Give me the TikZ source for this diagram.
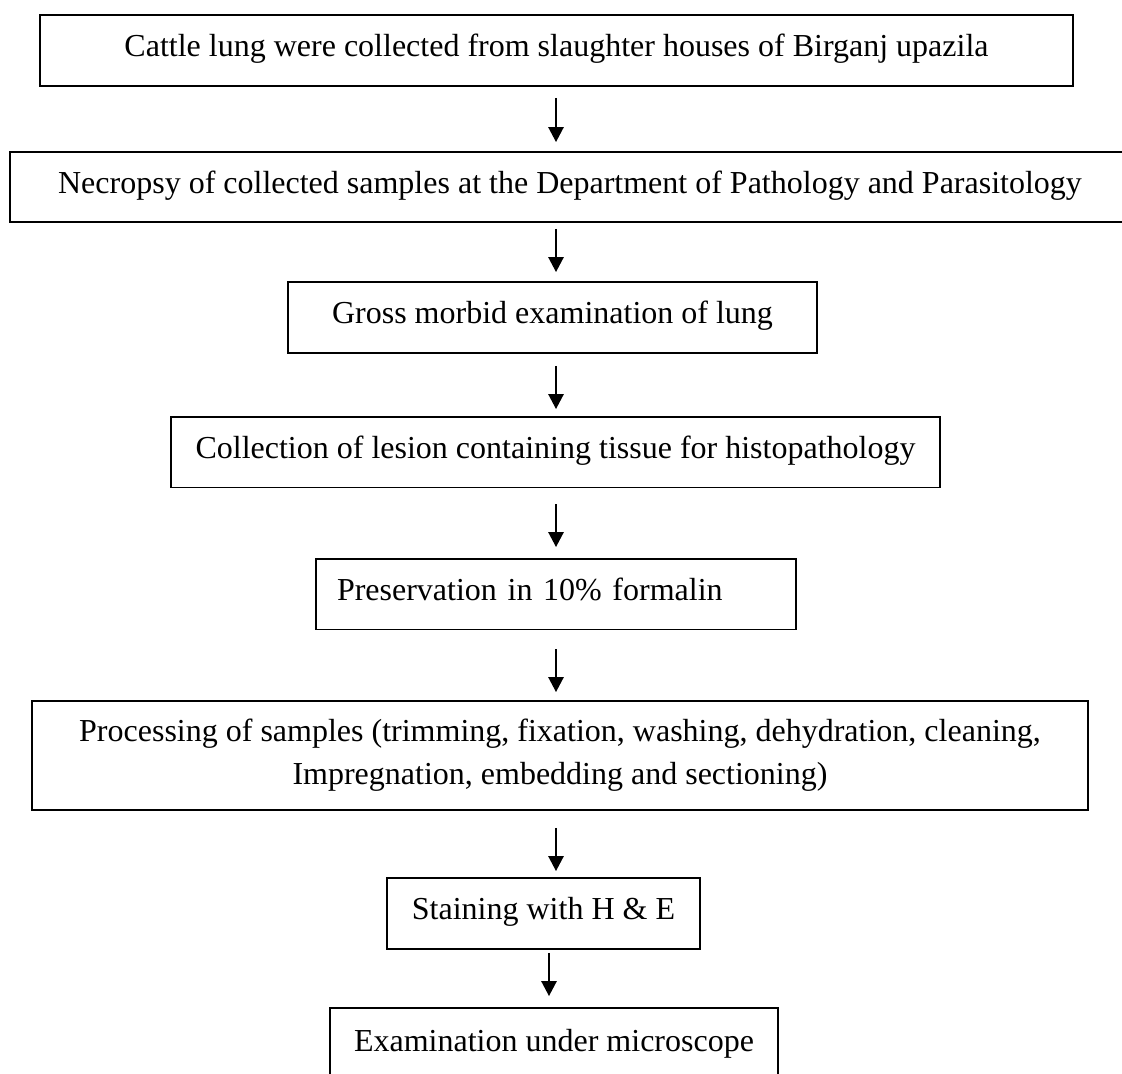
\documentclass[tikz,border=0pt]{standalone}
\usepackage{fontspec}
\setmainfont{Liberation Serif}
\usepackage{tikz}
\usetikzlibrary{arrows.meta, calc}
\tikzset{
  % Process step box
  stepbox/.style={
    rectangle, draw=black, line width=0.9pt,
    align=center, inner sep=0pt,
    font=\fontsize{16pt}{21.5pt}\selectfont,
    text height=11pt, text depth=5pt
  },
  % Arrows
  arr/.style={-{Triangle[length=7.5pt,width=7.5pt]}, line width=1.3pt, black},
}
\begin{document}
\begin{tikzpicture}[x=0.5pt, y=-0.5pt]
  \useasboundingbox (0,0) rectangle (1122,1073);

  % Steps
  \node[stepbox, minimum width=516.5pt, minimum height=35.5pt] (collect) at (556.5,50.5)
    {Cattle lung were collected from slaughter houses of Birganj upazila};
  \node[stepbox, minimum width=560pt, minimum height=35pt] (necropsy) at (570,187)
    {Necropsy of collected samples at the Department of Pathology and Parasitology};
  \node[stepbox, minimum width=264.5pt, minimum height=35.5pt] (gross) at (552.5,317.5)
    {Gross morbid examination of lung};
  \node[stepbox, minimum width=384.5pt, minimum height=35.25pt] (lesion) at (555.5,452.25)
    {Collection of lesion containing tissue for histopathology};
  \node[stepbox, minimum width=240pt, minimum height=35.25pt, text width=219pt, align=left] (preserve) at (556,594.25)
    {Preservation in 10\% formalin};
  \node[stepbox, minimum width=528pt, minimum height=54.5pt, text height={}, text depth={}] (process) at (560,755.5)
    {Processing of samples (trimming, fixation, washing, dehydration, cleaning,\\
     Impregnation, embedding and sectioning)};
  \node[stepbox, minimum width=156.5pt, minimum height=35.5pt] (stain) at (543.5,913.5)
    {Staining with H \& E};
  \node[stepbox, minimum width=224pt, minimum height=37pt] (micro) at (554,1045)
    {Examination under microscope};

  % Arrow lines
  \coordinate (axis) at (556,0);
  \coordinate (axisb) at (549,0);
  \draw[arr, shorten <=5.5pt, shorten >=4.5pt] (collect.south -| axis) -- (necropsy.north -| axis);
  \draw[arr, shorten <=3pt, shorten >=4.5pt] (necropsy.south -| axis) -- (gross.north -| axis);
  \draw[arr, shorten <=6pt, shorten >=3.5pt] (gross.south -| axis) -- (lesion.north -| axis);
  \draw[arr, shorten <=8pt, shorten >=5.5pt] (lesion.south -| axis) -- (preserve.north -| axis);
  \draw[arr, shorten <=9.5pt, shorten >=4pt] (preserve.south -| axis) -- (process.north -| axis);
  \draw[arr, shorten <=8.5pt, shorten >=3pt] (process.south -| axis) -- (stain.north -| axis);
  \draw[arr, shorten <=1.5pt, shorten >=5.5pt] (stain.south -| axisb) -- (micro.north -| axisb);
\end{tikzpicture}
\end{document}
